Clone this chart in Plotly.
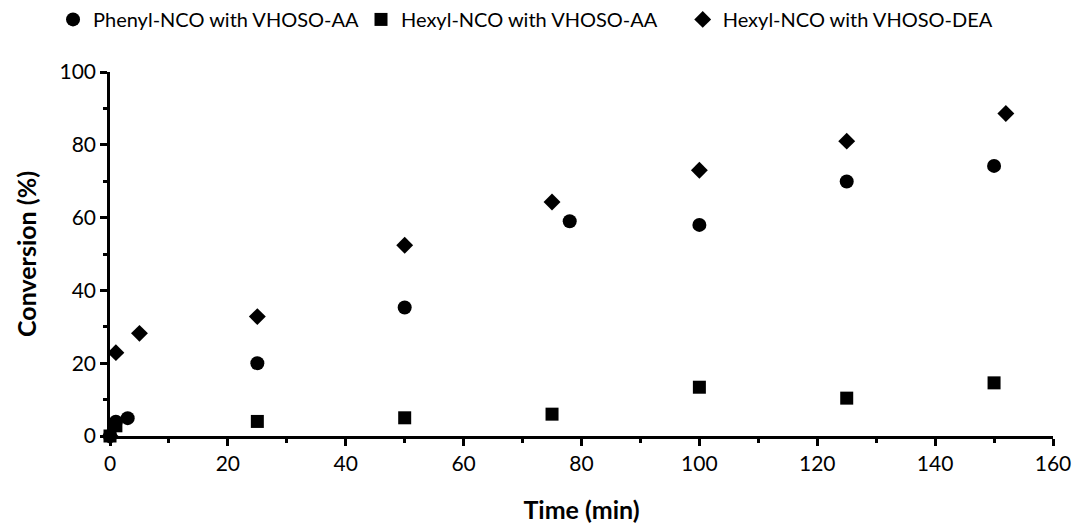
import plotly.graph_objects as go

time_phenyl = [0, 1, 3, 25, 50, 78, 100, 125, 150]
conv_phenyl = [0, 3.9, 4.9, 20.0, 35.3, 59.0, 58.0, 69.9, 74.2]

time_hexyl_aa = [0, 1, 25, 50, 75, 100, 125, 150]
conv_hexyl_aa = [0, 2.8, 4.0, 5.0, 6.0, 13.4, 10.4, 14.6]

time_hexyl_dea = [0, 1, 5, 25, 50, 75, 100, 125, 152]
conv_hexyl_dea = [0, 22.9, 28.2, 32.8, 52.4, 64.3, 73.0, 81.0, 88.6]

names = ["Phenyl-NCO with VHOSO-AA", "Hexyl-NCO with VHOSO-AA", "Hexyl-NCO with VHOSO-DEA"]

FONT = "Lato, 'Open Sans', sans-serif"

fig = go.Figure()
fig.add_trace(go.Scatter(x=time_phenyl, y=conv_phenyl, mode="markers", name=names[0], legend="legend",
                         marker=dict(symbol="circle", size=14, color="black"), cliponaxis=False))
fig.add_trace(go.Scatter(x=time_hexyl_aa, y=conv_hexyl_aa, mode="markers", name=names[1], legend="legend2",
                         marker=dict(symbol="square", size=13, color="black"), cliponaxis=False))
fig.add_trace(go.Scatter(x=time_hexyl_dea, y=conv_hexyl_dea, mode="markers", name=names[2], legend="legend3",
                         marker=dict(symbol="diamond", size=13, color="black"), cliponaxis=False))

def leg(xpos):
    return dict(orientation="h", x=xpos, xanchor="left", xref="container",
                y=0.978, yanchor="middle", yref="container",
                font=dict(size=20), itemwidth=30, itemsizing="trace",
                bgcolor="rgba(0,0,0,0)")

# page body has an 8px margin; the figure is sized to fit the window
fig.update_layout(
    width=1072, height=519,
    paper_bgcolor="white", plot_bgcolor="white",
    margin=dict(l=102, r=27, t=64, b=91, autoexpand=False),
    font=dict(family=FONT, color="black", size=21),
    showlegend=True,
    legend=leg(0.0420),
    legend2=leg(0.3293),
    legend3=leg(0.6294),
    xaxis=dict(range=[0, 160], dtick=20, tick0=0, showgrid=False, zeroline=False,
               showline=True, linecolor="black", linewidth=2.5,
               ticks="outside", ticklen=7, tickwidth=2.5, tickcolor="black",
               minor=dict(dtick=10, ticks="outside", ticklen=4, tickwidth=2.5, tickcolor="black", showgrid=False),
               title=dict(text="<b>Time (min)</b>", font=dict(size=25), standoff=28),
               tickfont=dict(size=21)),
    yaxis=dict(range=[0, 100], dtick=20, tick0=0, showgrid=False, zeroline=False,
               showline=True, linecolor="black", linewidth=2.5,
               ticks="outside", ticklen=7, tickwidth=2.5, tickcolor="black",
               minor=dict(dtick=10, ticks="outside", ticklen=4, tickwidth=2.5, tickcolor="black", showgrid=False),
               title=dict(text="<b>Conversion (%)</b>", font=dict(size=25), standoff=16),
               tickfont=dict(size=21)),
)

fig.write_html("out.html")
